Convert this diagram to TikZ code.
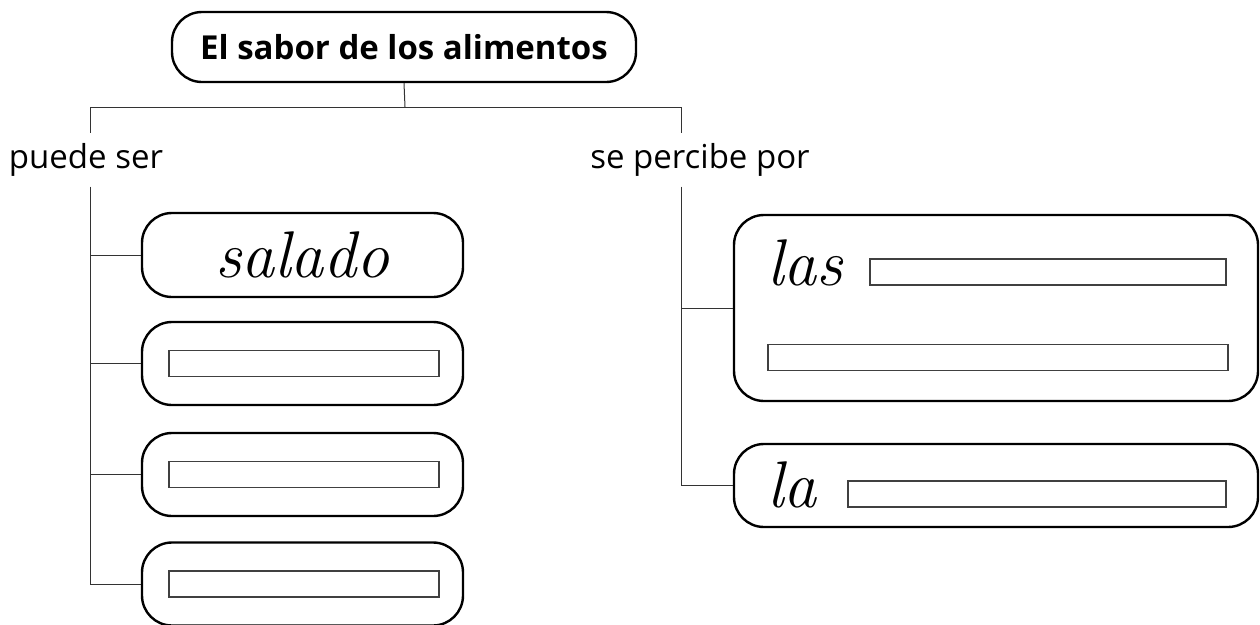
\documentclass[tikz,border=0pt]{standalone}
\usepackage{fontspec}
\setsansfont{Open Sans}
\tikzset{
  caja/.style={draw, line width=2.4pt, rounded corners=30pt, inner sep=0pt},
  hueco/.style={draw=black!75, line width=1.2pt, minimum height=26pt, inner sep=0pt},
  rotulo/.style={font=\sffamily\fontsize{33}{38}\selectfont, inner sep=0pt, minimum height=53pt},
  cursiva/.style={font=\itshape\fontsize{66}{70}\selectfont, inner sep=0pt},
  linea/.style={line width=1pt, draw=black!80}
}
\begin{document}
\begin{tikzpicture}[x=1pt,y=-1pt]
\useasboundingbox (0,0) rectangle (1260,624);
% titulo
\node[caja, minimum width=464pt, minimum height=70pt, font=\sffamily\bfseries\fontsize{33}{38}\selectfont] (titulo) at (404,47) {El sabor de los alimentos};
\coordinate (tope) at (405,107);
\coordinate (izq) at (90,107);
\coordinate (der) at (681,107);
\node[rotulo] (puede) at (86,160) {puede ser};
\node[rotulo] (percibe) at (700,160) {se percibe por};
% rama izquierda
\node[caja, minimum width=321pt, minimum height=84pt] (d1) at (302.5,255) {};
\node[cursiva] (salado) at (d1) {salado};
\foreach \y/\n in {363.5/d2, 474.5/d3, 584/d4} {
  \node[caja, minimum width=321pt, minimum height=83pt] (\n) at (302.5,\y) {};
  \node[hueco, minimum width=270pt] (h\n) at (304,\y) {};
}
% rama derecha
\node[caja, minimum width=524pt, minimum height=186pt] (sentidos) at (996,308) {};
\node[cursiva, anchor=base west] (las) at (767,285) {las};
\node[hueco, minimum width=356pt] (h5) at (1048,272) {};
\node[hueco, minimum width=460pt] (h6) at (998,357.5) {};
\node[caja, minimum width=524pt, minimum height=83pt] (lengua) at (996,485.5) {};
\node[cursiva, anchor=base west] (la) at (767,507) {la};
\node[hueco, minimum width=378pt] (h7) at (1037,494) {};
% conectores
\draw[linea] (titulo.south) -- (tope);
\draw[linea] (izq) -- (der);
\draw[linea] (izq) -- (izq |- puede.north);
\draw[linea] (izq |- puede.south) -- (izq |- d4.west) -- (d4.west);
\foreach \n in {d1,d2,d3} \draw[linea] (izq |- \n.west) -- (\n.west);
\draw[linea] (der) -- (der |- percibe.north);
\draw[linea] (der |- percibe.south) -- (der |- lengua.west) -- (lengua.west);
\draw[linea] (der |- sentidos.west) -- (sentidos.west);
\end{tikzpicture}
\end{document}
